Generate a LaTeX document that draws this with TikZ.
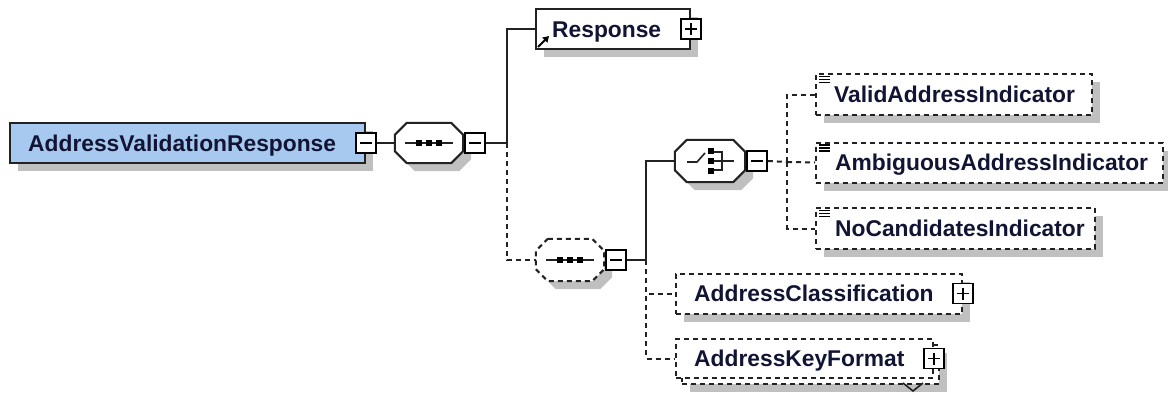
\documentclass[tikz,border=0pt]{standalone}
\usepackage{fontspec}
\setmainfont{Liberation Sans}
\usetikzlibrary{calc,shadows,arrows.meta}
\definecolor{shadowc}{RGB}{192,192,192}
\definecolor{linec}{RGB}{34,34,34}
\definecolor{txtc}{RGB}{18,20,52}
\definecolor{mainfill}{RGB}{168,201,239}
\newcommand{\octo}[2]{%
  \path[#2] ($(#1.north west)+(12,0)$) -- ($(#1.north east)+(-12,0)$) -- ($(#1.north east)+(0,12)$) -- ($(#1.south east)+(0,-12)$) -- ($(#1.south east)+(-12,0)$) -- ($(#1.south west)+(12,0)$) -- ($(#1.south west)+(0,-12)$) -- ($(#1.north west)+(0,12)$) -- cycle;}
\newcommand{\xminus}[1]{\draw[line width=1.5pt] ($(#1.center)+(-6,0)$) -- ($(#1.center)+(6,0)$);}
\newcommand{\xplus}[1]{\draw[line width=1.5pt] ($(#1.center)+(-6,0)$) -- ($(#1.center)+(6,0)$) ($(#1.center)+(0,-6)$) -- ($(#1.center)+(0,6)$);}
\newcommand{\seqicon}[1]{%
  \draw[line width=1.8pt, linec] ($(#1.center)+(-24,0)$) -- ($(#1.center)+(24,0)$);
  \foreach \d in {-10,0,10}{\fill ($(#1.center)+(\d,0)$) +(-3,-3) rectangle +(3,3);}}
\newcommand{\choiceicon}[1]{%
  \draw[line width=1.6pt, linec] ($(#1.center)+(-23,1)$) -- ($(#1.center)+(-13,1)$) -- ($(#1.center)+(-5,-8)$);
  \foreach \d in {-10,0,10}{\fill ($(#1.center)+(1,\d)$) +(-3,-3) rectangle +(3,3);}
  \draw[line width=1.6pt, linec] ($(#1.center)+(4,-9)$) -- ($(#1.center)+(12,-9)$) -- ($(#1.center)+(12,9)$) -- ($(#1.center)+(4,9)$);
  \draw[line width=1.6pt, linec] ($(#1.center)+(4,0)$) -- ($(#1.center)+(24,0)$);}
\newcommand{\docicon}[1]{%
  \draw[line width=1.2pt, black] ($(#1.north west)+(4,3.5)$) -- ++(11,0) ($(#1.north west)+(4,6.5)$) -- ++(11,0) ($(#1.north west)+(4,9.5)$) -- ++(11,0);}
\begin{document}
\begin{tikzpicture}[x=1pt,y=-1pt,
  conn/.style={draw=linec, line width=2pt},
  dconn/.style={conn, dash pattern=on 5pt off 4pt},
  shad/.style={general shadow={fill=shadowc, shadow xshift=8pt, shadow yshift=-8pt}},
  elbox/.style={rectangle, draw=linec, line width=2pt, fill=white, inner sep=0pt, shad},
  optbox/.style={elbox, dash pattern=on 5pt off 4pt},
  optnoshad/.style={rectangle, draw=linec, line width=2pt, fill=white, inner sep=0pt, dash pattern=on 5pt off 4pt},
  expbox/.style={rectangle, draw=black, line width=1.6pt, fill=white, minimum width=20pt, minimum height=20pt, inner sep=0pt},
  lbl/.style={font=\fontsize{22.8}{26}\selectfont\bfseries, text=txtc, inner sep=0pt, anchor=base west},
  hide/.style={rectangle, inner sep=0pt, draw=none},
  octs/.style={draw=linec, line width=2pt, fill=white, shad},
  doctd/.style={octs, dash pattern=on 5pt off 4pt}
]
\fill[white] (0,0) rectangle (1168,394);
\useasboundingbox (0,0) rectangle (1168,394);

% nodes
\node[elbox, fill=mainfill, minimum width=355pt, minimum height=40pt] (main) at (187.5,143) {};
\node[lbl] (mainlbl) at ($(main.west)+(19,8)$) {AddressValidationResponse};
\node[expbox] (xm) at (main.east) {};
\xminus{xm}

\node[hide, minimum width=68pt, minimum height=40pt] (seq1) at (429,143) {};
\octo{seq1}{octs}
\seqicon{seq1}
\node[expbox, anchor=west] (x1) at ($(seq1.east)+(1,0)$) {};
\xminus{x1}

\node[elbox, minimum width=154pt, minimum height=40pt] (resp) at (613,29) {};
\node[lbl] (resplbl) at ($(resp.west)+(17,8)$) {Response};
\draw[line width=1.8pt, -{Triangle[length=6pt,width=7pt]}] ($(resp.south west)+(3,-3)$) -- ++(11,-11);
\node[expbox] (xr) at (resp.east) {};
\xplus{xr}

\node[hide, minimum width=68pt, minimum height=42pt] (seq2) at (570,260) {};
\octo{seq2}{doctd}
\seqicon{seq2}
\node[expbox, anchor=west] (x2) at ($(seq2.east)+(1,0)$) {};
\xminus{x2}

\node[hide, minimum width=70pt, minimum height=42pt] (choice) at (710,161) {};
\octo{choice}{octs}
\choiceicon{choice}
\node[expbox, anchor=west] (x3) at ($(choice.east)+(1,0)$) {};
\xminus{x3}

\node[optbox, minimum width=276pt, minimum height=41pt] (valid) at (954,94.5) {};
\node[lbl] (validlbl) at ($(valid.west)+(19,8)$) {ValidAddressIndicator};
\docicon{valid}

\node[optbox, minimum width=347pt, minimum height=40pt] (ambig) at (989.5,162.5) {};
\node[lbl] (ambiglbl) at ($(ambig.west)+(20,8)$) {AmbiguousAddressIndicator};
\docicon{ambig}

\node[optbox, minimum width=279pt, minimum height=41pt] (nocand) at (955.5,228.5) {};
\node[lbl] (nocandlbl) at ($(nocand.west)+(20,8)$) {NoCandidatesIndicator};
\docicon{nocand}

\node[optbox, minimum width=286pt, minimum height=40pt] (clsf) at (819,293.5) {};
\node[lbl] (clsflbl) at ($(clsf.west)+(19,8)$) {AddressClassification};
\node[expbox] (xc) at (clsf.east) {};
\xplus{xc}

\node[optbox, minimum width=257pt, minimum height=39pt] (akfback) at (810.5,364.5) {};
\node[optnoshad, minimum width=257pt, minimum height=39pt] (akf) at (804.5,358.5) {};
\node[lbl] (akflbl) at ($(akf.west)+(19,8)$) {AddressKeyFormat};
\node[expbox] (xk) at (akf.east) {};
\xplus{xk}
\draw[line width=1.6pt, linec] ($(akfback.south east)+(-37,-2)$) -- ++(10,8) -- ++(10,-8);

% connectors
\coordinate (J1) at (507,143);
\coordinate (J2) at (646,260);
\coordinate (J3) at (787,162);
\draw[conn] (xm.east) -- (seq1.west);
\draw[conn] (x1.east) -- (J1);
\draw[conn] (J1) |- (resp.west);
\draw[dconn] (J1) |- (seq2.west);
\draw[conn] (x2.east) -- (J2);
\draw[conn] (J2) |- (choice.west);
\draw[dconn] (J2) |- (clsf.west);
\draw[dconn] (J2) |- (akf.west);
\draw[dconn] (x3.east) -- (J3);
\draw[dconn] (J3) |- (valid.west);
\draw[dconn] (J3) -- (ambig.west);
\draw[dconn] (J3) |- (nocand.west);
\end{tikzpicture}
\end{document}
